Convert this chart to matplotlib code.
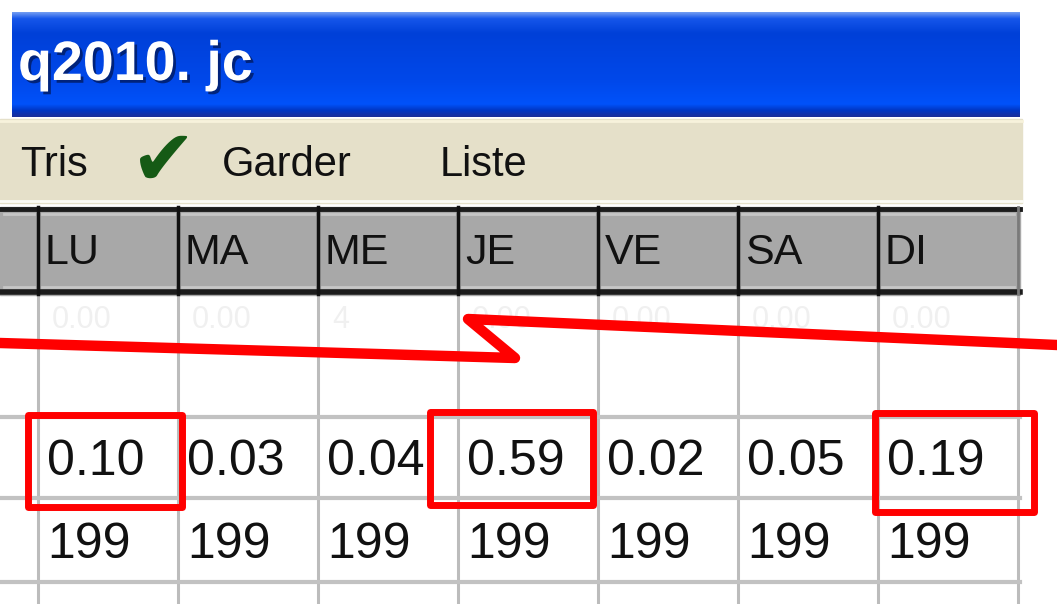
import matplotlib.pyplot as plt
import numpy as np
from matplotlib import patheffects
from matplotlib.colors import to_rgb

# ========= Data =========
title = "q2010. jc"
menu_items = ["Tris", "Garder", "Liste"]
days = ["LU", "MA", "ME", "JE", "VE", "SA", "DI"]
faint_row = ["0.00", "0.00", "4", "0.00", "0.00", "0.00", "0.00"]
values = [0.10, 0.03, 0.04, 0.59, 0.02, 0.05, 0.19]
counts = [199, 199, 199, 199, 199, 199, 199]
highlighted = ["LU", "JE", "DI"]

# ========= Layout (pixels) =========
W, H = 1057, 604
col_left0, col_w = 38, 140
col_edges = [col_left0 + i * col_w for i in range(len(days) + 1)]
box_spans = {"LU": (28, 182, 415, 507), "JE": (430, 593, 412, 505), "DI": (875, 1034, 413, 512)}
menu_x = [20, 222, 440]
zigzag_x = [0, 515, 468, 1057]
zigzag_y = [343, 358, 319, 345]

narrow = ['Liberation Sans Narrow', 'Liberation Sans', 'DejaVu Sans']

fig = plt.figure(figsize=[W / 100, H / 100], dpi=100)
ax = fig.add_axes([0, 0, 1, 1])
ax.set_xlim(0, W)
ax.set_ylim(H, 0)
ax.axis('off')

# title bar with vertical gradient
stops_y = [0.0, 0.06, 0.2, 0.65, 0.88, 0.94, 1.0]
stops_c = ['#6f9af2', '#1656ea', '#0040d8', '#0048ea', '#0052fa', '#0036c4', '#1a2e9a']
t = np.linspace(0, 1, 120)
rgb = np.array([to_rgb(c) for c in stops_c])
grad = np.stack([np.interp(t, stops_y, rgb[:, k]) for k in range(3)], axis=-1)
grad = np.repeat(grad[:, None, :], 2, axis=1)
ax.imshow(grad, extent=[12, 1020, 117, 12], aspect='auto', zorder=1)
ax.text(18, 66, title, color='white', fontsize=40, fontweight='bold', family=narrow,
        va='center', ha='left', zorder=3,
        path_effects=[patheffects.withSimplePatchShadow(offset=(2, -2), shadow_rgbFace='#001a60', alpha=0.8)])

# menu bar
ax.add_patch(plt.Rectangle((0, 119), 1022, 84, color='#e5e0c9', zorder=1))
ax.plot([0, 1022], [121, 121], color='#f7f2dc', lw=2, zorder=2)
ax.plot([0, 1022], [201, 201], color='#fbfbf6', lw=2, zorder=2)
for x, label in zip(menu_x, menu_items):
    ax.text(x, 165, label, fontsize=30, family=narrow, color='#111111',
            va='center', ha='left', zorder=3)
ax.text(164, 163, "\u2714", fontsize=56, family='DejaVu Sans', color='#155a15',
        va='center', ha='center', zorder=3)

# header row
ax.add_patch(plt.Rectangle((0, 207), 1020, 88, color='#a8a8a8', zorder=1))
for x0, x1 in zip([0] + col_edges[:-1], col_edges):
    ax.plot([x0 + 4, x1 - 4], [214, 214], color='#c6c6c6', lw=2, zorder=2)
    ax.plot([x0 + 4, x1 - 4], [287, 287], color='#c6c6c6', lw=2, zorder=2)
ax.plot([0, 1020], [209, 209], color='#1c1c1c', lw=3.5, zorder=3)
ax.plot([0, 1020], [292, 292], color='#1c1c1c', lw=4, zorder=3)
for x in col_edges[:-1]:
    ax.plot([x, x], [207, 294], color='#111111', lw=2.5, zorder=3)
ax.plot([col_edges[-1], col_edges[-1]], [207, 294], color='#7a7a7a', lw=2, zorder=3)
for x, d in zip(col_edges, days):
    ax.text(x + 7, 253, d, fontsize=31, family=narrow, color='#111111',
            va='center', ha='left', zorder=4)

# body grid
for x in col_edges:
    ax.plot([x, x], [296, H], color='#bcbcbc', lw=2.2, zorder=1)
for y in [417, 498, 582]:
    ax.plot([0, 1020], [y, y], color='#c2c2c2', lw=3, zorder=1)

for x, s in zip(col_edges, faint_row):
    ax.text(x + 14, 320, s, fontsize=22, family=narrow, color='#f0f0f0',
            va='center', ha='left', zorder=2)
for x, v in zip(col_edges, values):
    ax.text(x + 9, 462, f"{v:.2f}", fontsize=36, family=narrow, color='#111111',
            va='center', ha='left', zorder=4)
for x, c in zip(col_edges, counts):
    ax.text(x + 9, 545, str(c), fontsize=36, family=narrow, color='#111111',
            va='center', ha='left', zorder=4)

# red annotations
for d in highlighted:
    x0, x1, y0, y1 = box_spans[d]
    ax.add_patch(plt.Rectangle((x0, y0), x1 - x0, y1 - y0, fill=False, edgecolor='#ff0000',
                               lw=5, joinstyle='round', zorder=5))
ax.plot(zigzag_x, zigzag_y, color='#ff0000', lw=7.5, solid_joinstyle='round',
        solid_capstyle='round', zorder=5)

plt.savefig('out.png', dpi=100)
plt.close(fig)
